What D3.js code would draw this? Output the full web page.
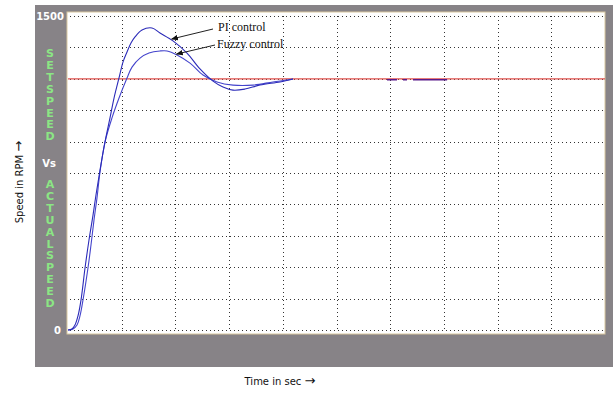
<!DOCTYPE html>
<html>
<head>
<meta charset="utf-8">
<script src="https://cdn.jsdelivr.net/npm/d3@7"></script>
<style>
  body { margin: 0; background: #fff; }
</style>
</head>
<body>
<script>
// Data

var w = 613;
var h = 394;

var setSpeed = 1200;
var yTicks = [0, 150, 300, 450, 600, 750, 900, 1050, 1200, 1350, 1500];
var xTicks = [0, 1, 2, 3, 4, 5, 6, 7, 8, 9, 10];
var yLabels = ["0", "1500"];

var piTime = [0, 0.074, 0.130, 0.186, 0.242, 0.317, 0.391, 0.466, 0.521, 0.596, 0.689, 0.782, 0.857, 0.950, 1.024, 1.099, 1.173, 1.248, 1.378, 1.564, 1.713, 1.955, 2.216, 2.458, 2.700, 2.886, 3.073, 3.296, 3.575, 3.948, 4.190];
var piSpeed = [0, 5, 24, 67, 143, 296, 430, 549, 645, 764, 898, 1013, 1108, 1204, 1280, 1328, 1371, 1400, 1433, 1443, 1419, 1381, 1323, 1247, 1189, 1161, 1146, 1151, 1170, 1185, 1199];

var fuzzyTime = [0, 0.093, 0.168, 0.223, 0.279, 0.372, 0.428, 0.484, 0.540, 0.596, 0.689, 0.819, 0.950, 1.099, 1.192, 1.341, 1.508, 1.713, 1.844, 2.030, 2.272, 2.514, 2.775, 3.073, 3.445, 3.817, 4.078, 4.190];
var fuzzySpeed = [0, 5, 24, 67, 143, 296, 406, 525, 631, 755, 898, 1013, 1108, 1204, 1256, 1299, 1323, 1333, 1333, 1314, 1275, 1218, 1185, 1170, 1170, 1185, 1194, 1199];

var tailTime = [5.94, 7.06];
var tailSpeed = [1195, 1195];

var leftWord1 = "SETSPEED".split("");
var leftWord2 = "ACTUALSPEED".split("");

/*
-----SVG-----
*/
var svg = d3.select("body")
  .append("svg")
  .attr("width", w)
  .attr("height", h);

// gray panel
svg.append("rect")
  .attr("x", 35).attr("y", 5)
  .attr("width", w - 35).attr("height", 362)
  .attr("fill", "#878387");

var x = d3.scaleLinear().domain([0, 10]).range([68, 605]);
var y = d3.scaleLinear().domain([0, 1500]).range([330, 16]);

// white plot area
svg.append("rect")
  .attr("x", 67).attr("y", 12)
  .attr("width", 538).attr("height", 322)
  .attr("fill", "#fff")
  .attr("stroke", "#d9c8a0")
  .attr("stroke-width", 1);

/*
----Grid----
*/
svg.selectAll(".hgrid")
  .data(yTicks)
  .enter()
  .append("line")
  .attr("class", "hgrid")
  .attr("x1", x(0) + 2).attr("x2", x(10) - 2)
  .attr("y1", function(d) { return Math.round(y(d)) + 0.5; })
  .attr("y2", function(d) { return Math.round(y(d)) + 0.5; })
  .attr("stroke", "#333")
  .attr("stroke-dasharray", "1,3");

svg.selectAll(".vgrid")
  .data(xTicks.slice(1, 10))
  .enter()
  .append("line")
  .attr("class", "vgrid")
  .attr("x1", function(d) { return Math.round(x(d)) + 0.5; })
  .attr("x2", function(d) { return Math.round(x(d)) + 0.5; })
  .attr("y1", y(1500)).attr("y2", y(0))
  .attr("stroke", "#333")
  .attr("stroke-dasharray", "1,3");

/*
----Lines----
*/
var line = d3.line()
  .x(function(d) { return x(d[0]); })
  .y(function(d) { return y(d[1]); })
  .curve(d3.curveCatmullRom.alpha(0.5));

svg.append("line")
  .attr("x1", x(0)).attr("x2", x(10))
  .attr("y1", y(setSpeed)).attr("y2", y(setSpeed))
  .attr("stroke", "#e0524e")
  .attr("stroke-width", 1.3);

svg.append("path")
  .datum(d3.zip(fuzzyTime, fuzzySpeed))
  .attr("d", line)
  .attr("fill", "none")
  .attr("stroke", "#4444cc")
  .attr("stroke-width", 1.1);

svg.append("path")
  .datum(d3.zip(piTime, piSpeed))
  .attr("d", line)
  .attr("fill", "none")
  .attr("stroke", "#2a2ab8")
  .attr("stroke-width", 1.1);

svg.append("path")
  .datum(d3.zip(tailTime, tailSpeed))
  .attr("d", line)
  .attr("fill", "none")
  .attr("stroke", "#5a1a8a")
  .attr("stroke-width", 1.5)
  .attr("stroke-dasharray", "10,6,4,6,40");

/*
----Annotations----
*/
svg.append("defs").append("marker")
  .attr("id", "arr")
  .attr("viewBox", "0 0 10 10")
  .attr("refX", 9).attr("refY", 5)
  .attr("markerWidth", 7).attr("markerHeight", 7)
  .attr("orient", "auto")
  .append("path")
  .attr("d", "M0,1 L10,5 L0,9 Z")
  .attr("fill", "#111");

svg.append("line")
  .attr("x1", 213).attr("y1", 29)
  .attr("x2", x(1.93)).attr("y2", y(1390))
  .attr("stroke", "#222")
  .attr("marker-end", "url(#arr)");

svg.append("line")
  .attr("x1", 215).attr("y1", 45)
  .attr("x2", x(2.02)).attr("y2", y(1318))
  .attr("stroke", "#222")
  .attr("marker-end", "url(#arr)");

svg.append("text")
  .attr("x", 218).attr("y", 31)
  .attr("font-family", "Liberation Serif, serif")
  .attr("font-size", 12)
  .attr("fill", "#111")
  .text("PI control");

svg.append("text")
  .attr("x", 217).attr("y", 48)
  .attr("font-family", "Liberation Serif, serif")
  .attr("font-size", 12)
  .attr("fill", "#111")
  .text("Fuzzy control");

/*
----Left panel text----
*/
svg.append("text")
  .attr("x", 64).attr("y", y(1500) + 4)
  .attr("text-anchor", "end")
  .attr("font-family", "DejaVu Sans, sans-serif")
  .attr("font-weight", "bold")
  .attr("font-size", 10)
  .attr("fill", "#fff")
  .text(yLabels[1]);

svg.append("text")
  .attr("x", 61).attr("y", y(0) + 4)
  .attr("text-anchor", "end")
  .attr("font-family", "DejaVu Sans, sans-serif")
  .attr("font-weight", "bold")
  .attr("font-size", 10)
  .attr("fill", "#fff")
  .text(yLabels[0]);

svg.selectAll(".w1")
  .data(leftWord1)
  .enter()
  .append("text")
  .attr("class", "w1")
  .attr("x", 50)
  .attr("y", function(d, i) { return 57 + i * 11.9; })
  .attr("text-anchor", "middle")
  .attr("font-family", "DejaVu Sans, sans-serif")
  .attr("font-weight", "bold")
  .attr("font-size", 11)
  .attr("fill", "#8be684")
  .text(function(d) { return d; });

svg.append("text")
  .attr("x", 49).attr("y", 167)
  .attr("text-anchor", "middle")
  .attr("font-family", "DejaVu Sans, sans-serif")
  .attr("font-weight", "bold")
  .attr("font-size", 10)
  .attr("fill", "#fff")
  .text("Vs");

svg.selectAll(".w2")
  .data(leftWord2)
  .enter()
  .append("text")
  .attr("class", "w2")
  .attr("x", 50)
  .attr("y", function(d, i) { return 188 + i * 11.9; })
  .attr("text-anchor", "middle")
  .attr("font-family", "DejaVu Sans, sans-serif")
  .attr("font-weight", "bold")
  .attr("font-size", 11)
  .attr("fill", "#8be684")
  .text(function(d) { return d; });

/*
----Axis titles----
*/
var yTitle = svg.append("text")
  .attr("transform", "translate(23,182) rotate(-90)")
  .attr("text-anchor", "middle")
  .attr("font-family", "DejaVu Sans, sans-serif")
  .attr("font-size", 10)
  .attr("fill", "#111");
yTitle.append("tspan").text("Speed in RPM ");
yTitle.append("tspan").attr("font-size", 13).text("\u2192");

var xTitle = svg.append("text")
  .attr("x", 280).attr("y", 385)
  .attr("text-anchor", "middle")
  .attr("font-family", "DejaVu Sans, sans-serif")
  .attr("font-size", 10)
  .attr("fill", "#111");
xTitle.append("tspan").text("Time in sec ");
xTitle.append("tspan").attr("font-size", 13).text("\u2192");
</script>
</body>
</html>
